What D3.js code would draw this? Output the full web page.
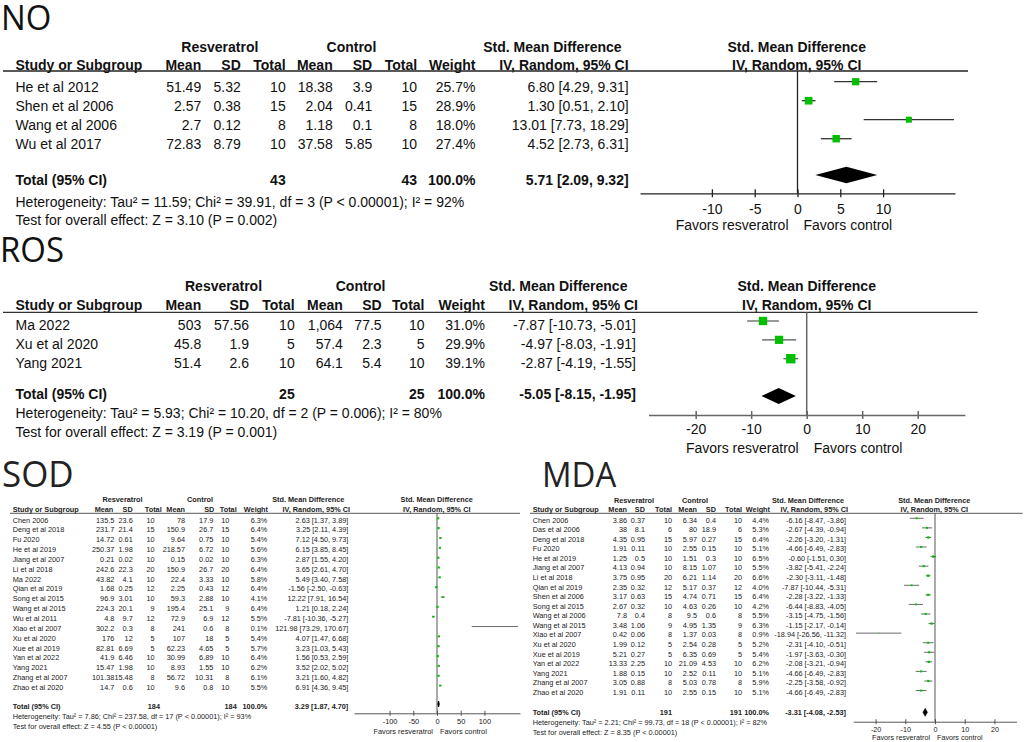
<!DOCTYPE html>
<html>
<head>
<meta charset="utf-8">
<script src="https://cdn.jsdelivr.net/npm/d3@7"></script>
<style>
  html, body { margin: 0; padding: 0; background: #fff; }
  svg { display: block; }
</style>
</head>
<body>
<svg id="fig" width="1024" height="742"></svg>
<script>
'use strict';

/* ── NO ─────────────────────────────────────────────── */
const noStudies = ['He et al 2012', 'Shen et al 2006', 'Wang et al 2006', 'Wu et al 2017'];
const noResMean = [51.49, 2.57, 2.7, 72.83];
const noResSD   = [5.32, 0.38, 0.12, 8.79];
const noResN    = [10, 15, 8, 10];
const noCtlMean = [18.38, 2.04, 1.18, 37.58];
const noCtlSD   = [3.9, 0.41, 0.1, 5.85];
const noCtlN    = [10, 15, 8, 10];
const noWeight  = [25.7, 28.9, 18.0, 27.4];
const noSMD     = [6.80, 1.30, 13.01, 4.52];
const noLower   = [4.29, 0.51, 7.73, 2.73];
const noUpper   = [9.31, 2.10, 18.29, 6.31];
const noPooled  = [5.71, 2.09, 9.32];     // estimate, lower, upper
const noTotalN  = [43, 43];
const noHet  = 'Heterogeneity: Tau² = 11.59; Chi² = 39.91, df = 3 (P < 0.00001); I² = 92%';
const noTest = 'Test for overall effect: Z = 3.10 (P = 0.002)';
const noTicks = [-10, -5, 0, 5, 10];

/* ── ROS ────────────────────────────────────────────── */
const rosStudies = ['Ma 2022', 'Xu et al 2020', 'Yang 2021'];
const rosResMean = [503, 45.8, 51.4];
const rosResSD   = [57.56, 1.9, 2.6];
const rosResN    = [10, 5, 10];
const rosCtlMean = [1064, 57.4, 64.1];
const rosCtlSD   = [77.5, 2.3, 5.4];
const rosCtlN    = [10, 5, 10];
const rosWeight  = [31.0, 29.9, 39.1];
const rosSMD     = [-7.87, -4.97, -2.87];
const rosLower   = [-10.73, -8.03, -4.19];
const rosUpper   = [-5.01, -1.91, -1.55];
const rosPooled  = [-5.05, -8.15, -1.95];
const rosTotalN  = [25, 25];
const rosHet  = 'Heterogeneity: Tau² = 5.93; Chi² = 10.20, df = 2 (P = 0.006); I² = 80%';
const rosTest = 'Test for overall effect: Z = 3.19 (P = 0.001)';
const rosTicks = [-20, -10, 0, 10, 20];

/* ── SOD ────────────────────────────────────────────── */
const sodStudies = ['Chen 2006', 'Deng et al 2018', 'Fu 2020', 'He et al 2019', 'Jiang et al 2007',
  'Li et al 2018', 'Ma 2022', 'Qian et al 2019', 'Song et al 2015', 'Wang et al 2015', 'Wu et al 2011',
  'Xiao et al 2007', 'Xu et al 2020', 'Xue et al 2019', 'Yan et al 2022', 'Yang 2021',
  'Zhang et al 2007', 'Zhao et al 2020'];
const sodResMean = [135.5, 231.7, 14.72, 250.37, 0.21, 242.6, 43.82, 1.68, 96.9, 224.3, 4.8, 302.2, 176, 82.81, 41.9, 15.47, 101.38, 14.7];
const sodResSD   = [23.6, 21.4, 0.61, 1.98, 0.02, 22.3, 4.1, 0.25, 3.01, 20.1, 9.7, 0.3, 12, 6.69, 6.46, 1.98, 15.48, 0.6];
const sodResN    = [10, 15, 10, 10, 10, 20, 10, 12, 10, 9, 12, 8, 5, 5, 10, 10, 8, 10];
const sodCtlMean = [78, 150.9, 9.64, 218.57, 0.15, 150.9, 22.4, 2.25, 59.3, 195.4, 72.9, 241, 107, 62.23, 30.99, 8.93, 56.72, 9.6];
const sodCtlSD   = [17.9, 26.7, 0.75, 6.72, 0.02, 26.7, 3.33, 0.43, 2.88, 25.1, 6.9, 0.6, 18, 4.65, 6.89, 1.55, 10.31, 0.8];
const sodCtlN    = [10, 15, 10, 10, 10, 20, 10, 12, 10, 9, 12, 8, 5, 5, 10, 10, 8, 10];
const sodWeight  = [6.3, 6.4, 5.4, 5.6, 6.3, 6.4, 5.8, 6.4, 4.1, 6.4, 5.5, 0.1, 5.4, 5.7, 6.4, 6.2, 6.1, 5.5];
const sodSMD     = [2.63, 3.25, 7.12, 6.15, 2.87, 3.65, 5.49, -1.56, 12.22, 1.21, -7.81, 121.98, 4.07, 3.23, 1.56, 3.52, 3.21, 6.91];
const sodLower   = [1.37, 2.11, 4.50, 3.85, 1.55, 2.61, 3.40, -2.50, 7.91, 0.18, -10.36, 73.29, 1.47, 1.03, 0.53, 2.02, 1.60, 4.36];
const sodUpper   = [3.89, 4.39, 9.73, 8.45, 4.20, 4.70, 7.58, -0.63, 16.54, 2.24, -5.27, 170.67, 6.68, 5.43, 2.59, 5.02, 4.82, 9.45];
const sodPooled  = [3.29, 1.87, 4.70];
const sodTotalN  = [184, 184];
const sodHet  = 'Heterogeneity: Tau² = 7.86; Chi² = 237.58, df = 17 (P < 0.00001); I² = 93%';
const sodTest = 'Test for overall effect: Z = 4.55 (P < 0.00001)';
const sodTicks = [-100, -50, 0, 50, 100];

/* ── MDA ────────────────────────────────────────────── */
const mdaStudies = ['Chen 2006', 'Das et al 2006', 'Deng et al 2018', 'Fu 2020', 'He et al 2019',
  'Jiang et al 2007', 'Li et al 2018', 'Qian et al 2019', 'Shen et al 2006', 'Song et al 2015',
  'Wang et al 2006', 'Wang et al 2015', 'Xiao et al 2007', 'Xu et al 2020', 'Xue et al 2019',
  'Yan et al 2022', 'Yang 2021', 'Zhang et al 2007', 'Zhao et al 2020'];
const mdaResMean = [3.86, 38, 4.35, 1.91, 1.25, 4.13, 3.75, 2.35, 3.17, 2.67, 7.8, 3.48, 0.42, 1.99, 5.21, 13.33, 1.88, 3.05, 1.91];
const mdaResSD   = [0.37, 8.1, 0.95, 0.11, 0.5, 0.94, 0.95, 0.32, 0.63, 0.32, 0.4, 1.06, 0.06, 0.12, 0.27, 2.25, 0.15, 0.88, 0.11];
const mdaResN    = [10, 6, 15, 10, 10, 10, 20, 12, 15, 10, 8, 9, 8, 5, 5, 10, 10, 8, 10];
const mdaCtlMean = [6.34, 80, 5.97, 2.55, 1.51, 8.15, 6.21, 5.17, 4.74, 4.63, 9.5, 4.95, 1.37, 2.54, 6.35, 21.09, 2.52, 5.03, 2.55];
const mdaCtlSD   = [0.4, 18.9, 0.27, 0.15, 0.3, 1.07, 1.14, 0.37, 0.71, 0.26, 0.6, 1.35, 0.03, 0.28, 0.69, 4.53, 0.11, 0.78, 0.15];
const mdaCtlN    = [10, 6, 15, 10, 10, 10, 20, 12, 15, 10, 8, 9, 8, 5, 5, 10, 10, 8, 10];
const mdaWeight  = [4.4, 5.3, 6.4, 5.1, 6.5, 5.5, 6.6, 4.0, 6.4, 4.2, 5.5, 6.3, 0.9, 5.2, 5.4, 6.2, 5.1, 5.9, 5.1];
const mdaSMD     = [-6.16, -2.67, -2.26, -4.66, -0.60, -3.82, -2.30, -7.87, -2.28, -6.44, -3.15, -1.15, -18.94, -2.31, -1.97, -2.08, -4.66, -2.25, -4.66];
const mdaLower   = [-8.47, -4.39, -3.20, -6.49, -1.51, -5.41, -3.11, -10.44, -3.22, -8.83, -4.75, -2.17, -26.56, -4.10, -3.63, -3.21, -6.49, -3.58, -6.49];
const mdaUpper   = [-3.86, -0.94, -1.31, -2.83, 0.30, -2.24, -1.48, -5.31, -1.33, -4.05, -1.56, -0.14, -11.32, -0.51, -0.30, -0.94, -2.83, -0.92, -2.83];
const mdaPooled  = [-3.31, -4.08, -2.53];
const mdaTotalN  = [191, 191];
const mdaHet  = 'Heterogeneity: Tau² = 2.21; Chi² = 99.73, df = 18 (P < 0.00001); I² = 82%';
const mdaTest = 'Test for overall effect: Z = 8.35 (P < 0.00001)';
const mdaTicks = [-20, -10, 0, 10, 20];

/* ── formatting (hyphen minus, like RevMan) ─────────── */
const loc  = d3.formatLocale({ decimal: '.', thousands: ',', grouping: [3], currency: ['', ''], minus: '-' });
const fNum = loc.format(',');
const f1   = loc.format('.1f');
const f2   = loc.format('.2f');
const fInt = loc.format('d');
const ciText = (m, l, h) => `${f2(m)} [${f2(l)}, ${f2(h)}]`;

const GREEN = '#00c000';
const svg = d3.select('#fig');

function drawPanel(P) {
  const g = svg.append('g');

  // text at baseline (x, y), optionally squeezed horizontally
  const T = (x, y, s, o = {}) => g.append('text')
    .attr('transform', `translate(${x},${y}) scale(${o.sx ?? 1},1)`)
    .attr('text-anchor', o.anchor || 'start')
    .attr('font-size', o.fs || P.fs)
    .attr('font-weight', o.bold ? 'bold' : null)
    .attr('font-family', o.family || '"Liberation Sans", Arial, sans-serif')
    .attr('fill', P.ink)
    .text(s);

  T(P.title.x, P.title.y, P.title.text,
    { fs: P.title.fs, sx: P.title.sx, family: '"Open Sans", "Noto Sans", sans-serif' });

  // ── table headers
  T(P.head[0], P.h1, 'Resveratrol', { anchor: 'middle', bold: true });
  T(P.head[1], P.h1, 'Control', { anchor: 'middle', bold: true });
  T(P.head[2], P.h1, 'Std. Mean Difference', { anchor: 'middle', bold: true });
  T(P.studyX, P.h2, 'Study or Subgroup', { bold: true });
  ['Mean', 'SD', 'Total', 'Mean', 'SD', 'Total', 'Weight', 'IV, Random, 95% CI']
    .forEach((h, i) => T(P.hcols[i], P.h2, h, { anchor: 'end', bold: true }));

  g.append('line')
    .attr('x1', P.lineX[0]).attr('x2', P.lineX[1])
    .attr('y1', P.lineY).attr('y2', P.lineY)
    .attr('stroke', P.lineColor).attr('stroke-width', P.lineW);

  // ── study rows
  const D = P.data;
  const rowY = i => P.row0 + i * P.step;
  D.studies.forEach((s, i) => {
    const y = rowY(i);
    T(P.studyX, y, s);
    [fNum(D.rm[i]), fNum(D.rs[i]), fInt(D.rn[i]), fNum(D.cm[i]), fNum(D.cs[i]), fInt(D.cn[i]),
     f1(D.w[i]) + '%', ciText(D.smd[i], D.lo[i], D.hi[i])]
      .forEach((v, j) => T(P.cols[j], y, v, { anchor: 'end' }));
  });

  // ── total + footers
  T(P.studyX, P.totY, 'Total (95% CI)', { bold: true });
  T(P.totN[0], P.totY, fInt(D.totalN[0]), { anchor: 'end', bold: true });
  T(P.totN[1], P.totY, fInt(D.totalN[1]), { anchor: 'end', bold: true });
  T(P.cols[6], P.totY, '100.0%', { anchor: 'end', bold: true });
  T(P.cols[7], P.totY, ciText(...D.pooled), { anchor: 'end', bold: true });
  T(P.studyX, P.hetY, D.het);
  T(P.studyX, P.testY, D.test);

  // ── forest plot
  const Q = P.plot;
  const x = d3.scaleLinear().domain(Q.domain).range(Q.range);

  T(Q.hdrX, P.h1, 'Std. Mean Difference', { anchor: 'middle', bold: true, fs: Q.hfs });
  T(Q.hdrX, P.h2, 'IV, Random, 95% CI', { anchor: 'middle', bold: true, fs: Q.hfs });

  g.append('line')
    .attr('x1', x(0)).attr('x2', x(0))
    .attr('y1', P.lineY).attr('y2', Q.axisY)
    .attr('stroke', Q.axisColor).attr('stroke-width', Q.zeroW);

  const rows = D.studies.map((s, i) => ({ i, smd: D.smd[i], lo: D.lo[i], hi: D.hi[i], w: D.w[i] }));

  g.selectAll(null).data(rows).enter().append('line')
    .attr('x1', d => x(d.lo)).attr('x2', d => x(d.hi))
    .attr('y1', d => rowY(d.i) + Q.markDy).attr('y2', d => rowY(d.i) + Q.markDy)
    .attr('stroke', Q.ciColor).attr('stroke-width', Q.ciW);

  g.selectAll(null).data(rows).enter().append('rect')
    .attr('x', d => x(d.smd) - Q.sqK * Math.sqrt(d.w) / 2)
    .attr('y', d => rowY(d.i) + Q.markDy - Q.sqK * Math.sqrt(d.w) / 2)
    .attr('width', d => Q.sqK * Math.sqrt(d.w))
    .attr('height', d => Q.sqK * Math.sqrt(d.w))
    .attr('fill', GREEN);

  const [pm, pl, ph] = D.pooled;
  const yd = P.totY + Q.diaDy;
  g.append('polygon')
    .attr('points', [[x(pl), yd], [x(pm), yd - Q.diaH / 2], [x(ph), yd], [x(pm), yd + Q.diaH / 2]]
      .map(p => p.join(',')).join(' '))
    .attr('fill', '#000').attr('stroke', '#000').attr('stroke-width', Q.diaStroke);

  const ax = g.append('g')
    .attr('transform', `translate(0,${Q.axisY})`)
    .call(d3.axisBottom(x).tickValues(D.ticks).tickSizeInner(0).tickSizeOuter(0).tickFormat(fInt));
  ax.select('.domain').attr('stroke', Q.axisColor).attr('stroke-width', Q.axisW);
  ax.selectAll('.tick line')
    .attr('y1', -Q.tick).attr('y2', Q.tick)
    .attr('stroke', Q.axisColor).attr('stroke-width', Q.axisW);
  ax.selectAll('.tick text')
    .attr('y', Q.tickLabY - Q.axisY).attr('dy', 0)
    .attr('font-size', Q.pfs)
    .attr('font-family', '"Liberation Sans", Arial, sans-serif')
    .attr('fill', P.ink);

  T(x(0) - Q.favGap[0], Q.favY, 'Favors resveratrol', { anchor: 'end', fs: Q.pfs });
  T(x(0) + Q.favGap[1], Q.favY, 'Favors control', { fs: Q.pfs });
}

drawPanel({
  title: { text: 'NO', x: 1, y: 30, fs: 35, sx: 0.94 },
  fs: 14, ink: '#111',
  studyX: 15.5, h1: 51.7, h2: 70,
  head: [219.8, 351.4, 552.4],
  cols:  [201.2, 240.8, 285.7, 332.7, 372.2, 417.1, 475.5, 628.6],
  hcols: [201.2, 240.8, 285.7, 332.7, 372.2, 417.1, 475.5, 628.6],
  totN: [285.7, 417.1],
  lineY: 71, lineX: [3, 968], lineW: 1.3, lineColor: '#222',
  row0: 91.7, step: 19, totY: 185, hetY: 206.7, testY: 225,
  data: { studies: noStudies, rm: noResMean, rs: noResSD, rn: noResN, cm: noCtlMean, cs: noCtlSD, cn: noCtlN,
          w: noWeight, smd: noSMD, lo: noLower, hi: noUpper, pooled: noPooled, totalN: noTotalN,
          het: noHet, test: noTest, ticks: noTicks },
  plot: { hdrX: 796.7, hfs: 14, domain: [-18.4, 18.4], range: [640, 955],
          axisY: 193.3, tick: 4, tickLabY: 214.3, pfs: 14, favY: 230, favGap: [9, 6],
          markDy: -10, diaDy: -10, diaH: 16.7, diaStroke: 0, sqK: 1.42, ciW: 1.3, ciColor: '#333',
          axisColor: '#222', axisW: 1.3, zeroW: 1.3 }
});

drawPanel({
  title: { text: 'ROS', x: 0, y: 261.7, fs: 35, sx: 0.94 },
  fs: 14, ink: '#111',
  studyX: 15.5, h1: 291, h2: 310,
  head: [223.5, 360.6, 558.2],
  cols:  [201.2, 249, 294.7, 342.9, 381.6, 424.5, 484.9, 636],
  hcols: [201.2, 249, 294.7, 342.9, 381.6, 424.5, 484.9, 638],
  totN: [294.7, 424.5],
  lineY: 312.3, lineX: [3, 977.7], lineW: 1.3, lineColor: '#333',
  row0: 330, step: 18.85, totY: 398.5, hetY: 418, testY: 436.5,
  data: { studies: rosStudies, rm: rosResMean, rs: rosResSD, rn: rosResN, cm: rosCtlMean, cs: rosCtlSD, cn: rosCtlN,
          w: rosWeight, smd: rosSMD, lo: rosLower, hi: rosUpper, pooled: rosPooled, totalN: rosTotalN,
          het: rosHet, test: rosTest, ticks: rosTicks },
  plot: { hdrX: 806.7, hfs: 14, domain: [-28.5, 28.5], range: [648.5, 964.9],
          axisY: 415, tick: 4, tickLabY: 434, pfs: 14, favY: 452.5, favGap: [8, 7],
          markDy: -9, diaDy: -2.5, diaH: 16, diaStroke: 0, sqK: 1.5, ciW: 1.2, ciColor: '#555',
          axisColor: '#666', axisW: 1.5, zeroW: 1.5 }
});

drawPanel({
  title: { text: 'SOD', x: 2, y: 487.3, fs: 36, sx: 0.97 },
  fs: 7.3, ink: '#222',
  studyX: 12.7, h1: 501.9, h2: 511.9,
  head: [122.5, 200, 308.3],
  cols:  [114.3, 132.7, 154.5, 185, 213.3, 229.3, 267.3, 348.3],
  hcols: [113.3, 132.7, 161.7, 185, 214.3, 236.7, 268, 350],
  totN: [160, 236.7],
  lineY: 513.3, lineX: [10, 520], lineW: 0.9, lineColor: '#444',
  row0: 522.6, step: 9.84, totY: 708.6, hetY: 718.9, testY: 728.9,
  data: { studies: sodStudies, rm: sodResMean, rs: sodResSD, rn: sodResN, cm: sodCtlMean, cs: sodCtlSD, cn: sodCtlN,
          w: sodWeight, smd: sodSMD, lo: sodLower, hi: sodUpper, pooled: sodPooled, totalN: sodTotalN,
          het: sodHet, test: sodTest, ticks: sodTicks },
  plot: { hdrX: 436.7, hfs: 7.3, domain: [-175, 175], range: [354, 520],
          axisY: 713.3, tick: 2.5, tickLabY: 724.3, pfs: 7.4, favY: 733.6, favGap: [4, 3],
          markDy: -4.3, diaDy: -4.6, diaH: 6, diaStroke: 1, sqK: 0.85, ciW: 0.8, ciColor: '#444',
          axisColor: '#444', axisW: 0.9, zeroW: 0.9 }
});

drawPanel({
  title: { text: 'MDA', x: 542, y: 487.3, fs: 35, sx: 0.94 },
  fs: 7.3, ink: '#222',
  studyX: 532.7, h1: 502.6, h2: 511.9,
  head: [634, 695, 808],
  cols:  [627, 645, 672, 697, 716, 742, 769, 846],
  hcols: [627, 645, 672, 697, 716, 742, 770, 848],
  totN: [672, 742],
  lineY: 513.3, lineX: [530, 1022.7], lineW: 0.9, lineColor: '#444',
  row0: 522.6, step: 9.57, totY: 715.3, hetY: 725.3, testY: 735.3,
  data: { studies: mdaStudies, rm: mdaResMean, rs: mdaResSD, rn: mdaResN, cm: mdaCtlMean, cs: mdaCtlSD, cn: mdaCtlN,
          w: mdaWeight, smd: mdaSMD, lo: mdaLower, hi: mdaUpper, pooled: mdaPooled, totalN: mdaTotalN,
          het: mdaHet, test: mdaTest, ticks: mdaTicks },
  plot: { hdrX: 934.3, hfs: 7.3, domain: [-27.5, 27.5], range: [853.3, 1016.7],
          axisY: 721.7, tick: 2.5, tickLabY: 731.9, pfs: 7.2, favY: 740.3, favGap: [5, 2],
          markDy: -4.3, diaDy: -3, diaH: 8, diaStroke: 0.5, sqK: 0.9, ciW: 0.8, ciColor: '#444',
          axisColor: '#444', axisW: 0.9, zeroW: 0.9 }
});
</script>
</body>
</html>
